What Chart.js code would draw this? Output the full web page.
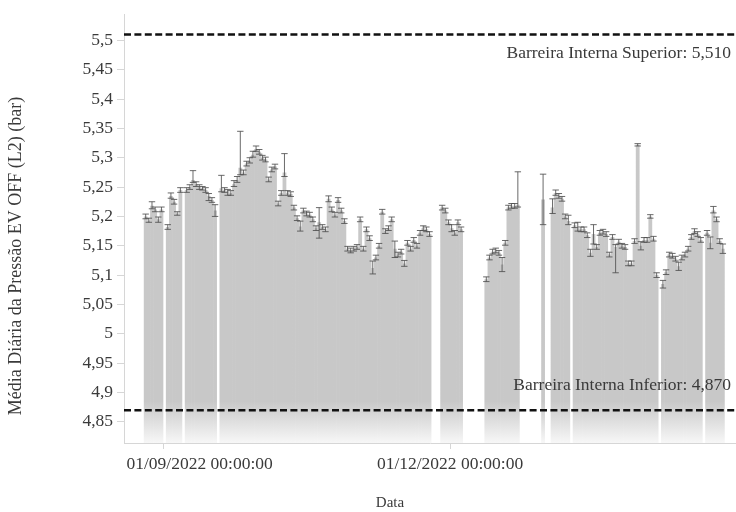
<!DOCTYPE html>
<html>
<head>
<meta charset="utf-8">
<script src="https://cdn.jsdelivr.net/npm/chart.js@4.4.1/dist/chart.umd.min.js"></script>
<style>
  html, body { margin: 0; padding: 0; background: #fff; }
  #wrap { width: 736px; height: 512px; position: relative; }
</style>
</head>
<body>
<div id="wrap"><canvas id="chart"></canvas></div>
<script>
// Daily mean of the EV OFF pressure (L2), with the spread of each day
const dates = [
  '2022-08-26','2022-08-27','2022-08-28','2022-08-29','2022-08-30','2022-08-31',
  '2022-09-02','2022-09-03','2022-09-04','2022-09-05','2022-09-06',
  '2022-09-08','2022-09-09','2022-09-10','2022-09-11','2022-09-12','2022-09-13','2022-09-14','2022-09-15','2022-09-16','2022-09-17',
  '2022-09-19','2022-09-20','2022-09-21','2022-09-22','2022-09-23','2022-09-24','2022-09-25','2022-09-26','2022-09-27','2022-09-28','2022-09-29','2022-09-30',
  '2022-10-01','2022-10-02','2022-10-03','2022-10-04','2022-10-05','2022-10-06','2022-10-07','2022-10-08','2022-10-09','2022-10-10',
  '2022-10-11','2022-10-12','2022-10-13','2022-10-14','2022-10-15','2022-10-16','2022-10-17','2022-10-18','2022-10-19','2022-10-20',
  '2022-10-21','2022-10-22','2022-10-23','2022-10-24','2022-10-25','2022-10-26','2022-10-27','2022-10-28','2022-10-29','2022-10-30','2022-10-31',
  '2022-11-01','2022-11-02','2022-11-03','2022-11-04','2022-11-05','2022-11-06','2022-11-07','2022-11-08','2022-11-09','2022-11-10',
  '2022-11-11','2022-11-12','2022-11-13','2022-11-14','2022-11-15','2022-11-16','2022-11-17','2022-11-18','2022-11-19','2022-11-20',
  '2022-11-21','2022-11-22','2022-11-23','2022-11-24',
  '2022-11-28','2022-11-29','2022-11-30','2022-12-01','2022-12-02','2022-12-03','2022-12-04',
  '2022-12-12','2022-12-13','2022-12-14','2022-12-15','2022-12-16','2022-12-17','2022-12-18','2022-12-19','2022-12-20','2022-12-21','2022-12-22',
  '2022-12-30',
  '2023-01-02','2023-01-03','2023-01-04','2023-01-05','2023-01-06','2023-01-07',
  '2023-01-09','2023-01-10','2023-01-11','2023-01-12','2023-01-13','2023-01-14','2023-01-15','2023-01-16','2023-01-17','2023-01-18',
  '2023-01-19','2023-01-20','2023-01-21','2023-01-22','2023-01-23','2023-01-24','2023-01-25','2023-01-26','2023-01-27','2023-01-28',
  '2023-01-29','2023-01-30','2023-01-31','2023-02-01','2023-02-02','2023-02-03','2023-02-04',
  '2023-02-06','2023-02-07','2023-02-08','2023-02-09','2023-02-10','2023-02-11','2023-02-12','2023-02-13','2023-02-14','2023-02-15',
  '2023-02-16','2023-02-17','2023-02-18',
  '2023-02-20','2023-02-21','2023-02-22','2023-02-23','2023-02-24','2023-02-25'
];

const meanPressure = [
  5.200, 5.193, 5.218, 5.212, 5.195, 5.212,
  5.182, 5.235, 5.225, 5.205, 5.245,
  5.245, 5.250, 5.262, 5.255, 5.250, 5.248, 5.245, 5.235, 5.228, 5.210,
  5.248, 5.245, 5.243, 5.240, 5.255, 5.262, 5.283, 5.275, 5.290, 5.295, 5.305, 5.315,
  5.310, 5.300, 5.297, 5.263, 5.280, 5.285, 5.222, 5.240, 5.275, 5.240,
  5.238, 5.215, 5.197, 5.183, 5.210, 5.205, 5.203, 5.195, 5.180, 5.190,
  5.182, 5.178, 5.230, 5.212, 5.203, 5.228, 5.210, 5.192, 5.145, 5.142, 5.145,
  5.148, 5.195, 5.145, 5.178, 5.163, 5.112, 5.130, 5.150, 5.208, 5.175,
  5.180, 5.195, 5.145, 5.135, 5.140, 5.120, 5.155, 5.145, 5.160, 5.150,
  5.172, 5.180, 5.178, 5.170,
  5.215, 5.210, 5.190, 5.180, 5.172, 5.190, 5.178,
  5.093, 5.130, 5.140, 5.142, 5.138, 5.118, 5.155, 5.215, 5.218, 5.218, 5.220,
  5.229,
  5.215, 5.240, 5.235, 5.230, 5.200, 5.192,
  5.185, 5.180, 5.178, 5.178, 5.168, 5.138, 5.170, 5.148, 5.172, 5.174,
  5.170, 5.135, 5.165, 5.148, 5.157, 5.150, 5.148, 5.120, 5.120, 5.158,
  5.322, 5.150, 5.160, 5.160, 5.200, 5.162, 5.100,
  5.085, 5.105, 5.135, 5.133, 5.128, 5.115, 5.130, 5.135, 5.145, 5.165,
  5.175, 5.170, 5.160,
  5.172, 5.155, 5.210, 5.195, 5.158, 5.145
];

const errPlus = [
  0.004, 0.004, 0.007, 0.004, 0.004, 0.004,
  0.004, 0.005, 0.004, 0.003, 0.004,
  0.004, 0.004, 0.016, 0.004, 0.004, 0.003, 0.004, 0.004, 0.004, 0.010,
  0.022, 0.004, 0.003, 0.004, 0.006, 0.006, 0.062, 0.004, 0.004, 0.005, 0.006, 0.005,
  0.004, 0.004, 0.004, 0.004, 0.004, 0.004, 0.004, 0.004, 0.032, 0.004,
  0.004, 0.004, 0.004, 0.009, 0.004, 0.004, 0.004, 0.004, 0.004, 0.025,
  0.004, 0.004, 0.005, 0.004, 0.004, 0.004, 0.004, 0.004, 0.004, 0.004, 0.004,
  0.004, 0.004, 0.004, 0.004, 0.004, 0.012, 0.004, 0.004, 0.004, 0.004,
  0.004, 0.004, 0.013, 0.004, 0.004, 0.005, 0.004, 0.004, 0.004, 0.004,
  0.004, 0.004, 0.004, 0.004,
  0.004, 0.004, 0.004, 0.006, 0.004, 0.004, 0.004,
  0.004, 0.004, 0.004, 0.004, 0.004, 0.012, 0.004, 0.004, 0.004, 0.004, 0.056,
  0.043,
  0.015, 0.005, 0.004, 0.004, 0.004, 0.010,
  0.004, 0.010, 0.004, 0.004, 0.004, 0.006, 0.016, 0.004, 0.004, 0.004,
  0.004, 0.004, 0.004, 0.004, 0.004, 0.004, 0.004, 0.004, 0.004, 0.004,
  0.002, 0.007, 0.004, 0.004, 0.003, 0.004, 0.004,
  0.006, 0.004, 0.004, 0.004, 0.004, 0.007, 0.004, 0.004, 0.004, 0.004,
  0.004, 0.004, 0.004,
  0.004, 0.010, 0.007, 0.004, 0.004, 0.008
];

const errMinus = [
  0.004, 0.003, 0.005, 0.004, 0.005, 0.004,
  0.004, 0.004, 0.004, 0.003, 0.004,
  0.004, 0.004, 0.004, 0.004, 0.004, 0.003, 0.004, 0.008, 0.004, 0.010,
  0.006, 0.004, 0.007, 0.004, 0.004, 0.004, 0.012, 0.004, 0.004, 0.004, 0.004, 0.004,
  0.004, 0.004, 0.004, 0.004, 0.004, 0.004, 0.004, 0.004, 0.007, 0.004,
  0.004, 0.004, 0.004, 0.008, 0.004, 0.004, 0.004, 0.004, 0.004, 0.027,
  0.004, 0.004, 0.005, 0.004, 0.004, 0.004, 0.004, 0.004, 0.004, 0.004, 0.004,
  0.004, 0.004, 0.004, 0.004, 0.004, 0.010, 0.004, 0.004, 0.004, 0.004,
  0.004, 0.004, 0.015, 0.004, 0.004, 0.005, 0.004, 0.004, 0.004, 0.004,
  0.004, 0.004, 0.004, 0.004,
  0.004, 0.004, 0.004, 0.006, 0.004, 0.004, 0.004,
  0.004, 0.004, 0.004, 0.004, 0.004, 0.012, 0.004, 0.004, 0.004, 0.004, 0.004,
  0.043,
  0.010, 0.004, 0.004, 0.004, 0.004, 0.006,
  0.004, 0.005, 0.004, 0.004, 0.004, 0.006, 0.017, 0.004, 0.004, 0.004,
  0.004, 0.004, 0.004, 0.044, 0.004, 0.004, 0.004, 0.004, 0.004, 0.004,
  0.002, 0.007, 0.004, 0.004, 0.003, 0.004, 0.004,
  0.007, 0.004, 0.004, 0.004, 0.004, 0.007, 0.004, 0.004, 0.004, 0.004,
  0.004, 0.004, 0.004,
  0.004, 0.010, 0.004, 0.004, 0.004, 0.008
];

// Internal barriers (upper / lower)
const barrierValues = [5.51, 4.87];
const barrierLabels = ['Barreira Interna Superior: 5,510', 'Barreira Interna Inferior: 4,870'];

// Axis ticks and titles
const yTickValues = [4.85, 4.9, 4.95, 5, 5.05, 5.1, 5.15, 5.2, 5.25, 5.3, 5.35, 5.4, 5.45, 5.5];
const yTickLabels = ['4,85', '4,9', '4,95', '5', '5,05', '5,1', '5,15', '5,2', '5,25', '5,3', '5,35', '5,4', '5,45', '5,5'];
const xTickDates = ['2022-09-01', '2022-12-01'];
const xTickLabels = ['01/09/2022 00:00:00', '01/12/2022 00:00:00'];
const xTitle = 'Data';
const yTitle = 'Média Diária da Pressão EV OFF (L2) (bar)';

const DAY = 86400000;
const toMs = s => Date.parse(s + 'T00:00:00Z');
const Y_MIN = 4.814, Y_MAX = 5.544;
const X_MIN = Date.parse('2022-08-19T15:00:00Z');
const X_MAX = Date.parse('2023-03-01T16:00:00Z');

// each bar covers its whole calendar day
const points = dates.map((d, i) => ({ x: toMs(d) + DAY / 2, y: meanPressure[i] }));

const FONT = "'Liberation Serif', 'Times New Roman', serif";
const TEXT = '#3a3a3a';
const AXIS = '#d6d6d6';

const errorBars = {
  id: 'errorBars',
  afterDatasetsDraw(chart) {
    const meta = chart.getDatasetMeta(0);
    const ys = chart.scales.y;
    const c = chart.ctx;
    const half = 3.2;
    c.save();
    c.beginPath();
    c.rect(chart.chartArea.left, chart.chartArea.top, chart.chartArea.width, chart.chartArea.height);
    c.clip();
    c.strokeStyle = 'rgba(80,80,80,0.85)';
    c.lineWidth = 1;
    meta.data.forEach((bar, i) => {
      const x = bar.x;
      const top = ys.getPixelForValue(meanPressure[i] + errPlus[i]);
      const bot = ys.getPixelForValue(meanPressure[i] - errMinus[i]);
      c.beginPath();
      c.moveTo(x, top); c.lineTo(x, bot);
      c.moveTo(x - half, top); c.lineTo(x + half, top);
      c.moveTo(x - half, bot); c.lineTo(x + half, bot);
      c.stroke();
    });
    c.restore();
  }
};

const barriers = {
  id: 'barriers',
  afterDatasetsDraw(chart) {
    const { ctx: c, chartArea: a, scales: { y } } = chart;
    c.save();
    barrierValues.forEach((v, i) => {
      const py = y.getPixelForValue(v);
      c.strokeStyle = '#111';
      c.lineWidth = 2.5;
      c.setLineDash([7, 3.4]);
      c.beginPath();
      c.moveTo(a.left, py);
      c.lineTo(a.right, py);
      c.stroke();
      c.setLineDash([]);
      c.fillStyle = TEXT;
      c.font = '17.5px ' + FONT;
      c.textAlign = 'right';
      c.textBaseline = 'middle';
      const ty = i === 0 ? py + 19 : py - 25;
      c.fillText(barrierLabels[i], a.right - 5, ty);
    });
    c.restore();
  }
};

// x tick labels (kept inside the plot's left edge) and axis titles
const axisText = {
  id: 'axisText',
  afterDraw(chart) {
    const c = chart.ctx;
    const xs = chart.scales.x;
    const a = chart.chartArea;
    c.save();
    c.fillStyle = TEXT;
    c.textAlign = 'center';
    c.textBaseline = 'middle';
    c.font = '17.5px ' + FONT;
    xTickDates.forEach((d, i) => {
      const w = c.measureText(xTickLabels[i]).width;
      const cx = Math.max(xs.getPixelForValue(toMs(d)), a.left + 2.5 + w / 2);
      c.fillText(xTickLabels[i], cx, xs.top + 21);
    });
    c.font = '15px ' + FONT;
    c.fillText(xTitle, 390, 503);
    c.translate(16, 256);
    c.rotate(-Math.PI / 2);
    c.font = '18px ' + FONT;
    c.fillText(yTitle, 0, 0);
    c.restore();
  }
};

function barFill(ctx) {
  const chart = ctx.chart;
  const a = chart.chartArea;
  if (!a) return '#c8c8c8';
  const top = chart.scales.y.getPixelForValue(4.885);
  const g = chart.ctx.createLinearGradient(0, top, 0, a.bottom);
  g.addColorStop(0, '#c8c8c8');
  g.addColorStop(1, '#f7f7f7');
  return g;
}

new Chart(document.getElementById('chart'), {
  type: 'bar',
  data: {
    datasets: [{
      data: points,
      backgroundColor: barFill,
      borderWidth: 0,
      base: Y_MIN,
      barPercentage: 1.2,
      categoryPercentage: 1,
      inflateAmount: 0
    }]
  },
  options: {
    responsive: true,
    maintainAspectRatio: false,
    devicePixelRatio: 1,
    animation: false,
    layout: { padding: { top: 12, left: 0, right: 0, bottom: 0 } },
    plugins: { legend: { display: false }, tooltip: { enabled: false } },
    scales: {
      x: {
        type: 'linear',
        min: X_MIN,
        max: X_MAX,
        offset: false,
        grid: { display: true, offset: false, drawOnChartArea: false, drawTicks: true, tickLength: 6, color: AXIS },
        border: { display: true, color: AXIS },
        ticks: { display: false },
        afterBuildTicks: s => { s.ticks = xTickDates.map(d => ({ value: toMs(d) })); },
        afterFit: s => { s.height = 69; }
      },
      y: {
        min: Y_MIN,
        max: Y_MAX,
        grid: { display: true, drawOnChartArea: false, drawTicks: true, tickLength: 7, color: AXIS },
        border: { display: true, color: AXIS },
        ticks: {
          color: TEXT, font: { family: FONT, size: 17.5 }, padding: 4,
          callback: (v, i) => yTickLabels[i]
        },
        afterBuildTicks: s => { s.ticks = yTickValues.map(v => ({ value: v })); },
        afterFit: s => { s.width = 124; }
      }
    }
  },
  plugins: [errorBars, barriers, axisText]
});
</script>
</body>
</html>
